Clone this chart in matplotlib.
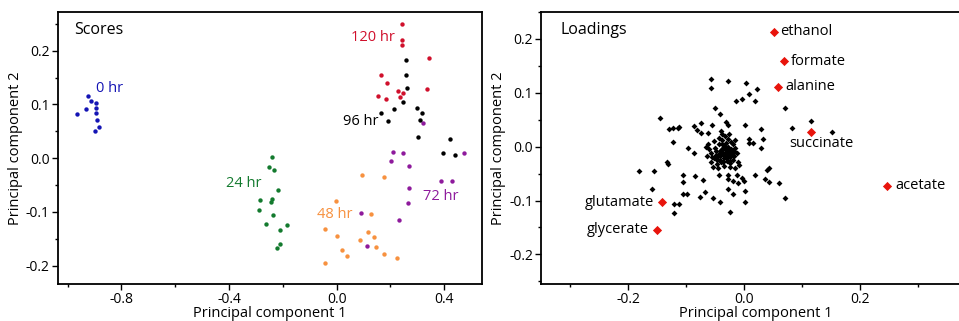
import numpy as np
import matplotlib
matplotlib.use("Agg")
import matplotlib.pyplot as plt
from matplotlib.ticker import MultipleLocator

plt.rcParams['font.family'] = ['Open Sans', 'DejaVu Sans']

# ---- Scores (PC1, PC2) per time point ----
hr0_x = [-0.964, -0.931, -0.923, -0.913, -0.895, -0.893, -0.893, -0.892, -0.885, -0.897]
hr0_y = [0.082, 0.092, 0.115, 0.107, 0.102, 0.093, 0.084, 0.071, 0.058, 0.050]

hr24_x = [-0.240, -0.250, -0.232, -0.218, -0.285, -0.242, -0.245, -0.290, -0.237, -0.263,
          -0.183, -0.211, -0.211, -0.223]
hr24_y = [0.003, -0.016, -0.022, -0.060, -0.078, -0.076, -0.081, -0.097, -0.105, -0.122,
          -0.125, -0.133, -0.160, -0.167]

hr48_x = [0.093, 0.177, -0.002, 0.128, -0.043, 0.002, 0.118, 0.088, 0.139, 0.019,
          0.037, 0.146, 0.176, 0.226, -0.043]
hr48_y = [-0.032, -0.035, -0.080, -0.104, -0.132, -0.144, -0.137, -0.152, -0.147, -0.171,
          -0.181, -0.165, -0.179, -0.185, -0.195]

hr72_x = [0.322, 0.208, 0.248, 0.201, 0.270, 0.475, 0.268, 0.389, 0.428, 0.266,
          0.092, 0.232, 0.114]
hr72_y = [0.066, 0.012, 0.009, -0.005, -0.014, 0.010, -0.055, -0.043, -0.042, -0.084,
          -0.102, -0.115, -0.163]

hr96_x = [0.257, 0.259, 0.261, 0.248, 0.213, 0.164, 0.190, 0.299, 0.317, 0.310,
          0.301, 0.423, 0.395, 0.440]
hr96_y = [0.182, 0.154, 0.130, 0.104, 0.092, 0.084, 0.069, 0.094, 0.084, 0.071,
          0.040, 0.035, 0.009, 0.006]

hr120_x = [0.244, 0.244, 0.243, 0.344, 0.164, 0.186, 0.154, 0.183, 0.228, 0.248,
           0.235, 0.337]
hr120_y = [0.249, 0.220, 0.211, 0.187, 0.154, 0.140, 0.116, 0.111, 0.125, 0.121,
           0.113, 0.128]

# ---- Loadings ----
load_x = [-0.058, -0.058, -0.028, 0.004, 0.023, 0.009, -0.003, -0.014, 0.019, 0.071,
          -0.050, -0.042, -0.145, -0.130, -0.122, -0.114, -0.112, -0.087, -0.075, -0.081,
          -0.075, -0.063, -0.055, -0.040, -0.031, -0.028, 0.001, 0.030, 0.033, 0.009,
          0.015, 0.009, 0.029, -0.123, -0.087, -0.097, -0.181, -0.156, -0.159, -0.133,
          -0.131, -0.106, -0.106, -0.084, -0.071, -0.106, -0.098, -0.076, -0.067, -0.053,
          -0.042, -0.027, -0.019, -0.027, -0.019, 0.001, 0.001, -0.024, -0.121, -0.113,
          -0.121, 0.018, 0.036, 0.043, 0.040, 0.043, 0.061, 0.070, 0.000, -0.003,
          -0.010, 0.116, 0.082, 0.151, -0.008, -0.015, -0.024, -0.043, -0.028, -0.013,
          -0.062, -0.060, -0.058, -0.055, -0.057, -0.052, -0.050, -0.049, -0.047, -0.046,
          -0.044, -0.043, -0.042, -0.041, -0.040, -0.038, -0.037, -0.036, -0.035, -0.034,
          -0.033, -0.032, -0.031, -0.030, -0.029, -0.028, -0.027, -0.026, -0.025, -0.024,
          -0.023, -0.022, -0.021, -0.020, -0.019, -0.018, -0.017, -0.015, -0.013, -0.016,
          -0.045, -0.039, -0.053, -0.026, -0.011, -0.064, -0.066,
          -0.048, -0.044, -0.039, -0.035, -0.031, -0.027, -0.023, -0.052, -0.046, -0.041,
          -0.036, -0.030, -0.024, -0.019, -0.033, -0.038]
load_y = [0.126, 0.108, 0.122, 0.118, 0.107, 0.097, 0.089, 0.085, 0.085, 0.072,
          0.072, 0.061, 0.053, 0.032, 0.035, 0.035, 0.037, 0.038, 0.043, 0.030,
          0.025, 0.025, 0.041, 0.029, 0.045, 0.041, 0.041, 0.032, 0.015, 0.015,
          0.006, 0.006, -0.003, 0.009, -0.012, -0.003, -0.046, -0.045, -0.078, -0.028,
          -0.033, -0.053, -0.066, -0.055, -0.061, -0.087, -0.087, -0.093, -0.085, -0.095,
          -0.102, -0.078, -0.087, -0.060, -0.063, -0.082, -0.102, -0.122, -0.106, -0.106,
          -0.124, -0.053, -0.060, -0.066, -0.043, -0.040, -0.068, -0.095, -0.063, -0.059,
          -0.067, 0.047, 0.035, 0.028, -0.034, -0.040, -0.037, -0.053, -0.053, -0.053,
          0.005, -0.005, -0.012, -0.020, -0.028, 0.010, -0.002, -0.015, -0.025, -0.033,
          0.016, 0.004, -0.008, -0.018, -0.028, 0.012, -0.002, -0.012, -0.022, -0.035,
          0.020, 0.006, -0.006, -0.016, -0.026, 0.014, 0.000, -0.010, -0.020, -0.030,
          0.008, -0.004, -0.014, -0.024, 0.004, -0.008, -0.018, -0.002, -0.012, 0.012,
          -0.040, 0.024, -0.038, 0.024, -0.028, -0.018, 0.000,
          -0.008, -0.013, -0.005, -0.016, -0.010, -0.004, -0.016, -0.022, -0.020, -0.024,
          -0.028, -0.021, -0.026, -0.012, 0.001, 0.005]

metab_names = ['ethanol', 'formate', 'alanine', 'succinate', 'acetate', 'glutamate', 'glycerate']
metab_x = [0.052, 0.069, 0.059, 0.116, 0.247, -0.141, -0.150]
metab_y = [0.213, 0.159, 0.111, 0.027, -0.073, -0.103, -0.154]

fig = plt.figure(figsize=(9.59, 3.21), dpi=100)
ax1 = fig.add_axes([0.0605, 0.1153, 0.442, 0.8473])
ax2 = fig.add_axes([0.5645, 0.1153, 0.447, 0.8473])

groups = [
    (hr0_x, hr0_y, '#1414b4', '0 hr', -0.896, 0.130, 'left'),
    (hr24_x, hr24_y, '#137a2e', '24 hr', -0.279, -0.047, 'right'),
    (hr48_x, hr48_y, '#f7913f', '48 hr', 0.059, -0.104, 'right'),
    (hr72_x, hr72_y, '#8e1a9c', '72 hr', 0.320, -0.071, 'left'),
    (hr96_x, hr96_y, '#000000', '96 hr', 0.157, 0.068, 'right'),
    (hr120_x, hr120_y, '#d0102c', '120 hr', 0.217, 0.225, 'right'),
]
for gx, gy, col, lab, tx, ty, ha in groups:
    ax1.scatter(gx, gy, s=10, color=col, linewidths=0, zorder=3)
    ax1.text(tx, ty, lab, color=col, fontsize=10.5, ha=ha, va='center')

ax1.text(-0.976, 0.238, 'Scores', fontsize=11.5, ha='left', va='center')
ax1.set_xlim(-1.036, 0.54)
ax1.set_ylim(-0.234, 0.272)
ax1.xaxis.set_major_locator(MultipleLocator(0.4))
ax1.xaxis.set_minor_locator(MultipleLocator(0.2))
ax1.yaxis.set_major_locator(MultipleLocator(0.1))
ax1.yaxis.set_minor_locator(MultipleLocator(0.05))
ax1.xaxis.set_major_formatter(plt.FuncFormatter(lambda v, p: f'{v:.1f}'))
ax1.yaxis.set_major_formatter(plt.FuncFormatter(lambda v, p: f'{v:.1f}'))

ax2.scatter(load_x, load_y, s=9, marker='D', color='black', linewidths=0, zorder=3)
ax2.scatter(metab_x, metab_y, s=22, marker='D', color='#e8140c', linewidths=0, zorder=4)
lab_pos = {
    'ethanol': (0.063, 0.213, 'left'),
    'formate': (0.081, 0.159, 'left'),
    'alanine': (0.071, 0.111, 'left'),
    'succinate': (0.133, 0.005, 'center'),
    'acetate': (0.261, -0.073, 'left'),
    'glutamate': (-0.155, -0.103, 'right'),
    'glycerate': (-0.165, -0.154, 'right'),
}
for name in metab_names:
    tx, ty, ha = lab_pos[name]
    ax2.text(tx, ty, name, fontsize=10.5, ha=ha, va='center')

ax2.text(-0.317, 0.216, 'Loadings', fontsize=11.5, ha='left', va='center')
ax2.set_xlim(-0.35, 0.39)
ax2.set_ylim(-0.255, 0.25)
ax2.xaxis.set_major_locator(MultipleLocator(0.2))
ax2.xaxis.set_minor_locator(MultipleLocator(0.1))
ax2.yaxis.set_major_locator(MultipleLocator(0.1))
ax2.yaxis.set_minor_locator(MultipleLocator(0.05))
ax2.xaxis.set_major_formatter(plt.FuncFormatter(lambda v, p: f'{v:.1f}'))
ax2.yaxis.set_major_formatter(plt.FuncFormatter(lambda v, p: f'{v:.1f}'))

for ax in (ax1, ax2):
    for sp in ax.spines.values():
        sp.set_linewidth(1.3)
    ax.tick_params(which='major', direction='out', length=4, width=1, labelsize=10,
                   top=False, right=False, pad=2)
    ax.tick_params(which='minor', direction='out', length=2.5, width=1, top=False, right=False)
    ax.set_xlabel('Principal component 1', fontsize=10.5, labelpad=-1)
    ax.set_ylabel('Principal component 2', fontsize=10.5, labelpad=2)

fig.savefig('out.png', dpi=100)
